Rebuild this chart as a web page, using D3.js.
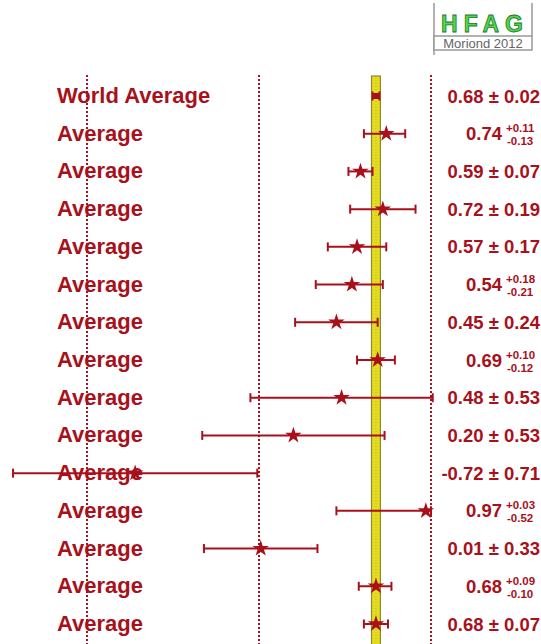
<!DOCTYPE html>
<html>
<head>
<meta charset="utf-8">
<script src="https://cdn.jsdelivr.net/npm/d3@7"></script>
<style>
  body { margin: 0; background: #fff; }
  svg { display: block; font-family: "Liberation Sans", Arial, sans-serif; }
</style>
</head>
<body>
<div id="chart"></div>
<script>
'use strict';

// Data
const labels = ['World Average', 'Average', 'Average', 'Average', 'Average', 'Average', 'Average',
    'Average', 'Average', 'Average', 'Average', 'Average', 'Average', 'Average', 'Average'];
const values = [0.68, 0.74, 0.59, 0.72, 0.57, 0.54, 0.45, 0.69, 0.48, 0.20, -0.72, 0.97, 0.01, 0.68, 0.68];
const errPlus = [0.02, 0.11, 0.07, 0.19, 0.17, 0.18, 0.24, 0.10, 0.53, 0.53, 0.71, 0.03, 0.33, 0.09, 0.07];
const errMinus = [0.02, 0.13, 0.07, 0.19, 0.17, 0.21, 0.24, 0.12, 0.53, 0.53, 0.71, 0.52, 0.33, 0.10, 0.07];
const guideTicks = [-1, 0, 1];

const width = 541, height = 644;
const red = '#a8111b';

const rows = values.map((v, i) => ({
    label: labels[i], value: v, plus: errPlus[i], minus: errMinus[i], i: i
}));

const svg = d3.select('#chart').append('svg')
    .attr('width', width).attr('height', height);

// Scales
const x = d3.scaleLinear().domain([-1, 1]).range([87, 431]);
const y = d3.scalePoint().domain(d3.range(rows.length)).range([96, 624]);

// World average band
const wa = rows[0];
svg.append('rect')
    .attr('x', x(wa.value - wa.minus) - 1)
    .attr('y', 76)
    .attr('width', x(wa.value + wa.plus) - x(wa.value - wa.minus) + 2)
    .attr('height', height - 76 + 10)
    .attr('fill', '#e4dc1c')
    .attr('stroke', '#8d8a2a')
    .attr('stroke-width', 1.2);
svg.append('line')
    .attr('x1', x(wa.value)).attr('x2', x(wa.value))
    .attr('y1', 77).attr('y2', height)
    .attr('stroke', '#b8b060')
    .attr('stroke-width', 1)
    .attr('stroke-dasharray', '1,2');

// Dotted guide lines at -1, 0, 1
svg.selectAll('line.guide')
    .data(guideTicks)
    .join('line')
    .classed('guide', true)
    .attr('x1', d => x(d)).attr('x2', d => x(d))
    .attr('y1', 75).attr('y2', height)
    .attr('stroke', red)
    .attr('stroke-width', 2)
    .attr('stroke-dasharray', '2,2');

// Labels
svg.selectAll('text.label')
    .data(rows)
    .join('text')
    .classed('label', true)
    .attr('x', 57)
    .attr('y', d => y(d.i) + 7)
    .attr('font-size', 22)
    .attr('font-weight', 'bold')
    .attr('fill', red)
    .text(d => d.label);

// Error bars
const bars = svg.selectAll('g.bar')
    .data(rows)
    .join('g')
    .classed('bar', true)
    .attr('transform', d => `translate(0,${y(d.i)})`);

bars.append('line')
    .attr('x1', d => x(d.value - d.minus))
    .attr('x2', d => x(d.value + d.plus))
    .attr('stroke', red)
    .attr('stroke-width', d => d.i === 0 ? 6 : 2);

bars.selectAll('line.cap')
    .data(d => [d.value - d.minus, d.value + d.plus])
    .join('line')
    .classed('cap', true)
    .attr('x1', v => x(v)).attr('x2', v => x(v))
    .attr('y1', -4.5).attr('y2', 4.5)
    .attr('stroke', red)
    .attr('stroke-width', 2);

bars.filter(d => d.i > 0)
    .append('path')
    .attr('d', d3.symbol(d3.symbolStar, 85))
    .attr('transform', d => `translate(${x(d.value)},0)`)
    .attr('fill', red);

// Value text
const fmt = v => v.toFixed(2);
const sym = rows.filter(d => d.plus === d.minus);
const asym = rows.filter(d => d.plus !== d.minus);

svg.selectAll('text.val')
    .data(sym)
    .join('text')
    .classed('val', true)
    .attr('x', 540)
    .attr('y', d => y(d.i) + 6.5)
    .attr('text-anchor', 'end')
    .attr('font-size', 18.5)
    .attr('font-weight', 'bold')
    .attr('fill', red)
    .text(d => `${fmt(d.value)} \u00b1 ${fmt(d.plus)}`);

const av = svg.selectAll('g.aval')
    .data(asym)
    .join('g')
    .classed('aval', true)
    .attr('transform', d => `translate(0,${y(d.i)})`)
    .attr('fill', red)
    .attr('font-weight', 'bold');

av.append('text')
    .attr('x', 502).attr('y', 6.5)
    .attr('text-anchor', 'end')
    .attr('font-size', 18.5)
    .text(d => fmt(d.value));
av.append('text')
    .attr('x', 506).attr('y', -1.5)
    .attr('font-size', 11.5)
    .text(d => '+' + fmt(d.plus));
av.append('text')
    .attr('x', 507).attr('y', 11.5)
    .attr('font-size', 11.5)
    .text(d => '-' + fmt(d.minus));

// HFAG logo
const logo = svg.append('g').attr('transform', 'translate(434,3)');
logo.append('path')
    .attr('d', 'M0,0 V52 M98,0 V33')
    .attr('stroke', '#999').attr('stroke-width', 1.5).attr('fill', 'none');
logo.append('rect')
    .attr('x', 0).attr('y', 33).attr('width', 98).attr('height', 14)
    .attr('fill', '#fff').attr('stroke', '#999').attr('stroke-width', 1.5);
logo.append('text')
    .attr('x', 51).attr('y', 29)
    .attr('text-anchor', 'middle')
    .attr('font-size', 23)
    .attr('font-weight', 'bold')
    .attr('letter-spacing', 6)
    .attr('fill', '#52d552')
    .attr('stroke', '#1e7a1e')
    .attr('stroke-width', 0.8)
    .text('HFAG');
logo.append('text')
    .attr('x', 49).attr('y', 45)
    .attr('text-anchor', 'middle')
    .attr('font-size', 13)
    .attr('fill', '#666')
    .text('Moriond 2012');
</script>
</body>
</html>
